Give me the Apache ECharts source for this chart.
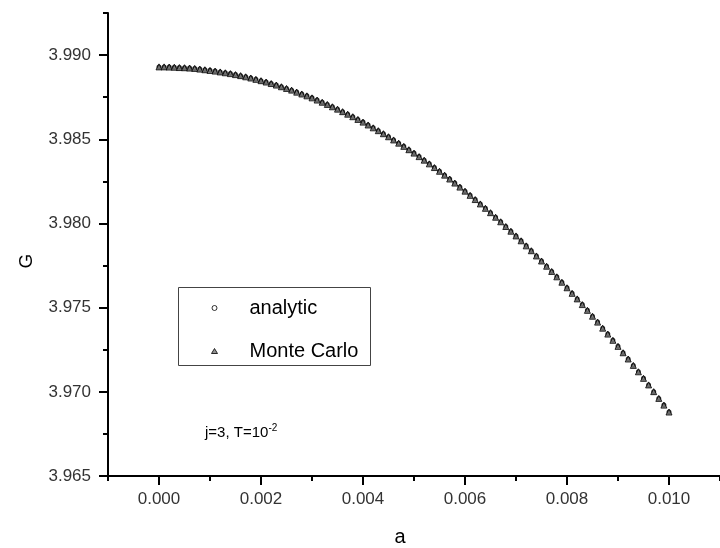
<!DOCTYPE html>
<html>
<head>
<meta charset="utf-8">
<script src="https://cdn.jsdelivr.net/npm/echarts@6/dist/echarts.min.js"></script>
<style>
html,body{margin:0;padding:0;background:#fff;}
#chart{width:720px;height:548px;}
</style>
</head>
<body>
<div id="chart"></div>
<script>
// ---- data ----
const aValues = [
  0.0000,0.0001,0.0002,0.0003,0.0004,0.0005,0.0006,0.0007,0.0008,0.0009,
  0.0010,0.0011,0.0012,0.0013,0.0014,0.0015,0.0016,0.0017,0.0018,0.0019,
  0.0020,0.0021,0.0022,0.0023,0.0024,0.0025,0.0026,0.0027,0.0028,0.0029,
  0.0030,0.0031,0.0032,0.0033,0.0034,0.0035,0.0036,0.0037,0.0038,0.0039,
  0.0040,0.0041,0.0042,0.0043,0.0044,0.0045,0.0046,0.0047,0.0048,0.0049,
  0.0050,0.0051,0.0052,0.0053,0.0054,0.0055,0.0056,0.0057,0.0058,0.0059,
  0.0060,0.0061,0.0062,0.0063,0.0064,0.0065,0.0066,0.0067,0.0068,0.0069,
  0.0070,0.0071,0.0072,0.0073,0.0074,0.0075,0.0076,0.0077,0.0078,0.0079,
  0.0080,0.0081,0.0082,0.0083,0.0084,0.0085,0.0086,0.0087,0.0088,0.0089,
  0.0090,0.0091,0.0092,0.0093,0.0094,0.0095,0.0096,0.0097,0.0098,0.0099,
  0.0100
];
const gAnalytic = [
  3.98930,3.98930,3.98929,3.98928,3.98927,3.98925,3.98923,3.98920,3.98917,3.98913,
  3.98910,3.98905,3.98900,3.98895,3.98890,3.98884,3.98878,3.98871,3.98864,3.98856,
  3.98848,3.98840,3.98831,3.98822,3.98812,3.98802,3.98791,3.98781,3.98769,3.98758,
  3.98746,3.98733,3.98720,3.98707,3.98693,3.98679,3.98664,3.98649,3.98634,3.98618,
  3.98602,3.98585,3.98568,3.98551,3.98533,3.98515,3.98496,3.98477,3.98458,3.98438,
  3.98418,3.98397,3.98376,3.98354,3.98332,3.98310,3.98287,3.98264,3.98240,3.98216,
  3.98192,3.98167,3.98142,3.98116,3.98090,3.98064,3.98037,3.98010,3.97982,3.97954,
  3.97926,3.97897,3.97867,3.97838,3.97807,3.97777,3.97746,3.97715,3.97683,3.97651,
  3.97618,3.97585,3.97552,3.97518,3.97484,3.97449,3.97414,3.97378,3.97343,3.97306,
  3.97270,3.97232,3.97195,3.97157,3.97119,3.97080,3.97041,3.97001,3.96961,3.96921,
  3.96880
];
const gMonteCarlo = [
  3.98930,3.98930,3.98929,3.98928,3.98926,3.98925,3.98923,3.98921,3.98917,3.98913,
  3.98909,3.98905,3.98900,3.98895,3.98890,3.98884,3.98878,3.98871,3.98864,3.98856,
  3.98848,3.98840,3.98831,3.98822,3.98812,3.98802,3.98792,3.98780,3.98769,3.98758,
  3.98746,3.98733,3.98720,3.98707,3.98693,3.98679,3.98664,3.98649,3.98634,3.98618,
  3.98602,3.98585,3.98568,3.98551,3.98533,3.98515,3.98496,3.98477,3.98458,3.98438,
  3.98418,3.98397,3.98376,3.98354,3.98332,3.98310,3.98287,3.98264,3.98240,3.98216,
  3.98192,3.98167,3.98142,3.98116,3.98090,3.98064,3.98037,3.98010,3.97982,3.97954,
  3.97926,3.97897,3.97867,3.97838,3.97807,3.97777,3.97746,3.97715,3.97683,3.97651,
  3.97618,3.97585,3.97552,3.97518,3.97484,3.97449,3.97414,3.97378,3.97343,3.97306,
  3.97270,3.97232,3.97195,3.97157,3.97119,3.97080,3.97041,3.97001,3.96961,3.96921,
  3.96880
];
const xMajorTicks = [0.000, 0.002, 0.004, 0.006, 0.008, 0.010];
const yMajorTicks = [3.965, 3.970, 3.975, 3.980, 3.985, 3.990];
const seriesNames = ['analytic', 'Monte Carlo'];
const xTitle = 'a';
const yTitle = 'G';

const FONT = 'Liberation Sans, Arial, sans-serif';
const chart = echarts.init(document.getElementById('chart'), null, {renderer: 'canvas'});

const xMin = -0.001, xMax = 0.011, yMin = 3.965, yMax = 3.9925;

const xMinorAxis = {
  type: 'value', min: xMin, max: xMax, interval: 0.001, position: 'bottom',
  axisLine: {show: true, onZero: false, lineStyle: {color: '#000', width: 2}},
  axisTick: {show: true, length: 5, lineStyle: {color: '#000', width: 2}},
  axisLabel: {show: false}, splitLine: {show: false}
};
const xMajorAxis = {
  type: 'value', min: xMin, max: xMax, interval: 0.001, position: 'bottom',
  axisLine: {show: false, onZero: false},
  axisTick: {show: true, length: 9, customValues: xMajorTicks, lineStyle: {color: '#000', width: 2}},
  axisLabel: {show: true, customValues: xMajorTicks, margin: 15, fontSize: 17, fontFamily: FONT, color: '#333',
    formatter: v => v.toFixed(3)},
  splitLine: {show: false}
};
const yMinorAxis = {
  type: 'value', min: yMin, max: yMax, interval: 0.0025, position: 'left',
  axisLine: {show: true, onZero: false, lineStyle: {color: '#000', width: 2}},
  axisTick: {show: true, length: 5, lineStyle: {color: '#000', width: 2}},
  axisLabel: {show: false}, splitLine: {show: false}
};
const yMajorAxis = {
  type: 'value', min: yMin, max: yMax, interval: 0.0025, position: 'left',
  axisLine: {show: false, onZero: false},
  axisTick: {show: true, length: 9, customValues: yMajorTicks, lineStyle: {color: '#000', width: 2}},
  axisLabel: {show: true, customValues: yMajorTicks, margin: 17, fontSize: 17, fontFamily: FONT, color: '#333',
    formatter: v => v.toFixed(3)},
  splitLine: {show: false}
};

chart.setOption({
  animation: false,
  backgroundColor: '#fff',
  grid: {left: 108, right: -5, top: 13, bottom: 72, containLabel: false},
  xAxis: [xMinorAxis, xMajorAxis],
  yAxis: [yMinorAxis, yMajorAxis],
  legend: {
    orient: 'vertical', left: 206, top: 293, itemGap: 23,
    itemWidth: 6, itemHeight: 5, symbolKeepAspect: true,
    textStyle: {fontSize: 20, fontFamily: FONT, color: '#000', padding: [0, 0, 0, 27]},
    data: [
      {name: seriesNames[0], icon: 'circle', itemStyle: {color: '#fff', borderColor: '#000', borderWidth: 1}},
      {name: seriesNames[1], icon: 'triangle', itemStyle: {color: '#777', borderColor: '#000', borderWidth: 1}}
    ]
  },
  series: [
    {
      name: seriesNames[0], type: 'scatter', xAxisIndex: 0, yAxisIndex: 0,
      symbol: 'emptyCircle', symbolSize: 3,
      itemStyle: {color: '#000', borderColor: '#000', borderWidth: 1},
      data: aValues.map((a, i) => [a, gAnalytic[i]])
    },
    {
      name: seriesNames[1], type: 'scatter', xAxisIndex: 0, yAxisIndex: 0,
      symbol: 'triangle', symbolSize: 6,
      itemStyle: {color: '#777', borderColor: '#000', borderWidth: 1},
      data: aValues.map((a, i) => [a, gMonteCarlo[i]])
    }
  ],
  graphic: [
    {type: 'rect', left: 176, top: 285, shape: {width: 192, height: 78},
     style: {fill: null, stroke: '#444', lineWidth: 1}, z: 10},
    {type: 'text', x: 27, y: 261, rotation: Math.PI / 2,
     style: {text: yTitle, fontSize: 19, fontFamily: FONT, fill: '#000', align: 'center', verticalAlign: 'middle'}},
    {type: 'text', x: 400, y: 537,
     style: {text: xTitle, fontSize: 20, fontFamily: FONT, fill: '#000', align: 'center', verticalAlign: 'middle'}},
    {type: 'text', x: 205, y: 433,
     style: {
       text: '{n|j=3, T=10}{s|-2}',
       verticalAlign: 'middle',
       rich: {
         n: {fontSize: 15, fontFamily: FONT, fill: '#000'},
         s: {fontSize: 10, fontFamily: FONT, fill: '#000', padding: [0, 0, 9, 0]}
       }
     }}
  ]
});
</script>
</body>
</html>
